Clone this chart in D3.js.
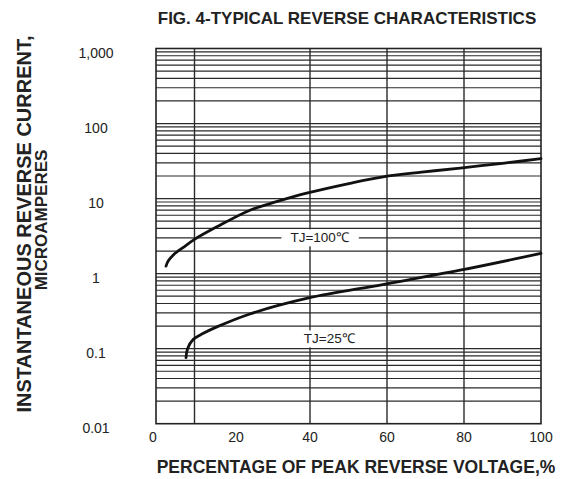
<!DOCTYPE html>
<html>
<head>
<meta charset="utf-8">
<script src="https://cdn.jsdelivr.net/npm/d3@7"></script>
<style>
  html, body { margin: 0; padding: 0; background: #fff; }
  svg { display: block; font-family: "Liberation Sans", Arial, Helvetica, sans-serif; }
</style>
</head>
<body>
<svg id="chart" width="567" height="479"></svg>
<script>
// ---- data ----
const title = "FIG. 4-TYPICAL REVERSE CHARACTERISTICS";
const xTitle = "PERCENTAGE OF PEAK REVERSE VOLTAGE,%";
const yTitleLines = ["INSTANTANEOUS REVERSE CURRENT,", "MICROAMPERES"];
const xTickValues = [0, 20, 40, 60, 80, 100];
const xTickLabels = ["0", "20", "40", "60", "80", "100"];
const xGridValues = [10, 40, 60, 80];
const yTickValues = [0.01, 0.1, 1, 10, 100, 1000];
const yTickLabels = ["0.01", "0.1", "1", "10", "100", "1,000"];
const seriesNames = ["TJ=100℃", "TJ=25℃"];
const pct100 = [2.6, 3.2, 4.5, 7.1, 10.1, 15.8, 24.4, 31.3, 39.4, 50.4, 59, 69, 79, 90, 100];
const cur100 = [1.26, 1.48, 1.77, 2.24, 2.88, 4.2, 7.0, 9.1, 11.9, 16, 19.5, 22.5, 25.5, 29.5, 34];
const pct25 = [7.8, 8.2, 9.7, 12.3, 15.8, 24.4, 39.4, 59.2, 79, 100];
const cur25 = [0.076, 0.1, 0.133, 0.16, 0.195, 0.29, 0.47, 0.72, 1.11, 1.86];
const labelAnchors = [{x: 42.5, v: 3.0}, {x: 45, v: 0.135}];

// ---- layout ----
const W = 567, H = 479;
const m = {left: 156, right: 26, top: 48.5, bottom: 55.3};
const svg = d3.select("#chart");
const x = d3.scaleLinear().domain([0, 100]).range([m.left, W - m.right]);
const y = d3.scaleLog().domain([0.01, 1000]).range([H - m.bottom, m.top]);
const ink = "#222";

// grid horizontal
const hGrid = [];
for (let k = -2; k <= 2; k++) for (let j = 1; j <= 9; j++) {
  const v = j * Math.pow(10, k);
  if (v > 0.0101 && v < 999) hGrid.push(v);
}
const g = svg.append("g");
g.selectAll("line.h").data(hGrid).enter().append("line")
  .attr("x1", x(0)).attr("x2", x(100))
  .attr("y1", d => y(d)).attr("y2", d => y(d))
  .attr("stroke", "#2a2a2a").attr("stroke-width", 1.2);
g.selectAll("line.v").data(xGridValues).enter().append("line")
  .attr("x1", d => x(d)).attr("x2", d => x(d))
  .attr("y1", y(0.01)).attr("y2", y(1000))
  .attr("stroke", "#2a2a2a").attr("stroke-width", 1.4);

// label boxes (white, hide grid)
const labG = svg.append("g");
labelAnchors.forEach((a, i) => {
  const t = labG.append("text")
    .attr("x", x(a.x)).attr("y", y(a.v))
    .attr("text-anchor", "middle").attr("dominant-baseline", "central")
    .attr("font-size", 13.5).attr("fill", ink)
    .text(seriesNames[i]);
  const bb = t.node().getBBox();
  labG.insert("rect", "text")
    .attr("x", bb.x - 9).attr("y", bb.y - 1)
    .attr("width", bb.width + 18).attr("height", bb.height + 2)
    .attr("fill", "#fff");
});

// frame
svg.append("rect")
  .attr("x", x(0)).attr("y", y(1000))
  .attr("width", x(100) - x(0)).attr("height", y(0.01) - y(1000))
  .attr("fill", "none").attr("stroke", ink).attr("stroke-width", 1.6);

// curves
const line = d3.line().x(d => x(d[0])).y(d => y(d[1])).curve(d3.curveCatmullRom.alpha(0.5));
[[pct100, cur100], [pct25, cur25]].forEach(([px, cy]) => {
  svg.append("path")
    .attr("d", line(px.map((p, i) => [p, cy[i]])))
    .attr("fill", "none").attr("stroke", "#111").attr("stroke-width", 2.8)
    .attr("stroke-linecap", "round");
});

// y tick labels
svg.selectAll("text.yt").data(yTickValues).enter().append("text")
  .attr("x", 96).attr("y", d => y(d) + 4)
  .attr("text-anchor", "middle").attr("dominant-baseline", "central")
  .attr("font-size", 14).attr("fill", ink)
  .text((d, i) => yTickLabels[i]);

// x tick labels
svg.selectAll("text.xt").data(xTickValues).enter().append("text")
  .attr("x", d => x(d) - (d === 0 ? 3 : 0) + (d === 20 ? 3 : 0)).attr("y", 437)
  .attr("text-anchor", "middle").attr("dominant-baseline", "central")
  .attr("font-size", 14).attr("fill", ink)
  .text((d, i) => xTickLabels[i]);

// titles
svg.append("text").attr("x", 347).attr("y", 18)
  .attr("text-anchor", "middle").attr("dominant-baseline", "central")
  .attr("font-size", 17).attr("font-weight", "bold").attr("fill", ink)
  .text(title);
svg.append("text").attr("x", 356).attr("y", 467)
  .attr("text-anchor", "middle").attr("dominant-baseline", "central")
  .attr("font-size", 17.5).attr("font-weight", "bold").attr("fill", ink)
  .text(xTitle);
const yt = svg.append("g").attr("transform", "translate(0,224) rotate(-90)");
yt.append("text").attr("x", 0).attr("y", 24)
  .attr("text-anchor", "middle").attr("dominant-baseline", "central")
  .attr("font-size", 20).attr("font-weight", "bold").attr("fill", ink)
  .text(yTitleLines[0]);
yt.append("text").attr("x", 4).attr("y", 41)
  .attr("text-anchor", "middle").attr("dominant-baseline", "central")
  .attr("font-size", 17).attr("font-weight", "bold").attr("fill", ink)
  .text(yTitleLines[1]);
</script>
</body>
</html>
